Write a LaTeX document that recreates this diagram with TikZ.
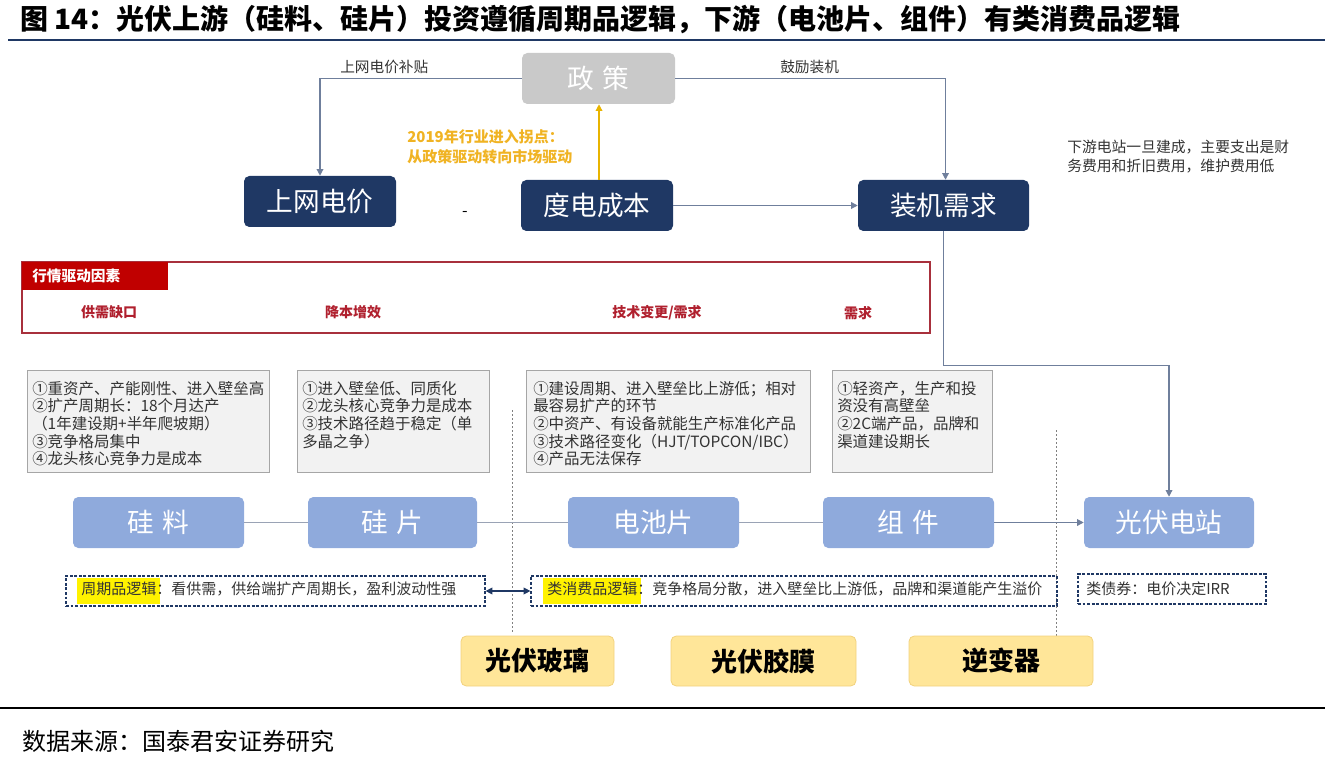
\documentclass[tikz,border=0pt]{standalone}
\usepackage{fontspec}
\setmainfont{Noto Sans CJK SC}
\usetikzlibrary{arrows.meta}
\definecolor{navy}{HTML}{1F3864}
\definecolor{chainblue}{HTML}{8FAADC}
\definecolor{polgray}{HTML}{C9C9C9}
\definecolor{ybox}{HTML}{FFE699}
\definecolor{yborder}{HTML}{F2D27E}
\definecolor{redhead}{HTML}{C00000}
\definecolor{redline}{HTML}{A8303C}
\definecolor{redtext}{HTML}{B0202E}
\definecolor{goldtext}{HTML}{F0B323}
\definecolor{goldline}{HTML}{E8B400}
\definecolor{boxfill}{HTML}{F2F2F2}
\definecolor{boxline}{HTML}{A6A6A6}
\definecolor{conncol}{HTML}{6F7F9C}
\definecolor{chainline}{HTML}{9AA3B5}
\definecolor{bodytext}{HTML}{333333}
\begin{document}
\begin{tikzpicture}[x=0.75pt,y=-0.75pt,
  bigfont/.style={font=\fontsize{20}{22}\selectfont},
  navybox/.style={rounded corners=4pt, fill=navy, text=white, bigfont, minimum height=38.25pt, inner sep=0pt},
  chainbox/.style={rounded corners=4pt, fill=chainblue, text=white, bigfont, minimum width=128.25pt, minimum height=38.25pt, inner sep=0pt},
  yelbox/.style={rounded corners=4pt, fill=ybox, draw=yborder, line width=0.6pt, text=black, font=\fontsize{19.5}{22}\selectfont\bfseries, minimum height=37.5pt, inner sep=0pt},
  graybox/.style={fill=boxfill, draw=boxline, line width=0.6pt},
  boxtext/.style={anchor=north west, align=left, text=bodytext, inner sep=0pt, font=\fontsize{11.6}{13.2}\selectfont},
  conn/.style={draw=conncol, line width=0.9pt},
  chainconn/.style={draw=chainline, line width=0.9pt},
  tip/.style={-{Triangle[width=5pt,length=5pt]}},
  dashbox/.style={draw=navy, dashed, dash pattern=on 2.2pt off 1.2pt, line width=0.9pt, inner sep=0pt},
  dashtext/.style={anchor=west, inner sep=0pt, text=bodytext, font=\fontsize{11.25}{13}\selectfont},
  redlabel/.style={text=redtext, font=\fontsize{10.5}{12}\selectfont\bfseries},
  vdot/.style={draw=gray, line width=0.5pt, dash pattern=on 1.5pt off 1.5pt}
]
\useasboundingbox (0,0) rectangle (1342,759);

% title
\node[anchor=west, inner sep=0pt, font=\fontsize{21}{24}\selectfont\bfseries] (title) at (20,20) {图 14：光伏上游（硅料、硅片）投资遵循周期品逻辑，下游（电池片、组件）有类消费品逻辑};
\draw[draw=navy, line width=1.6pt] (8,40) -- (1325,40);

% policy row
\node[rounded corners=4pt, fill=polgray, text=white, bigfont, minimum width=114.75pt, minimum height=38.25pt, inner sep=0pt] (zc) at (598.5,78.5) {政\hspace{0.3em}策};
\node[navybox, minimum width=114pt] (sw) at (320,201.5) {上网电价};
\node[navybox, minimum width=114pt] (dd) at (597,205.5) {度电成本};
\node[navybox, minimum width=128.25pt] (zj) at (943.5,205.5) {装机需求};
\node[inner sep=0pt, font=\fontsize{12}{14}\selectfont] (dash) at (465,214) {-};

\node[inner sep=0pt, anchor=west, text=bodytext, font=\fontsize{11}{13}\selectfont] (lb1) at (340,67) {上网电价补贴};
\node[inner sep=0pt, anchor=west, text=bodytext, font=\fontsize{11}{13}\selectfont] (lb2) at (780,67) {鼓励装机};

\draw[conn,tip] (zc.west) -| (sw.north);
\draw[conn,tip] (zc.east) -| ([xshift=1.5]zj.north);
\draw[draw=goldline, line width=0.9pt, tip] ([xshift=1.5]dd.north) -- ([xshift=1.5]dd.north |- zc.south);
\draw[conn,tip] (dd.east) -- (zj.west);

\node[inner sep=0pt, anchor=north west, align=left, text=goldtext, font=\fontsize{11.25}{15}\selectfont\bfseries] (gold) at (407,129) {2019年行业进入拐点：\\从政策驱动转向市场驱动};

\node[inner sep=0pt, anchor=north west, align=left, text=bodytext, font=\fontsize{11.1}{14.2}\selectfont] (rtext) at (1067,140) {下游电站一旦建成，主要支出是财\\务费用和折旧费用，维护费用低};

% red factor box
\draw[draw=redline, line width=1.3pt] (22,262) rectangle (930,333);
\node[anchor=north west, fill=redhead, minimum width=109.5pt, minimum height=21pt, inner sep=0pt] (hdr) at (22,262) {};
\node[anchor=west, inner sep=0pt, text=white, font=\fontsize{11}{13}\selectfont\bfseries] (hdrt) at (32,276) {行情驱动因素};
\node[redlabel] (f1) at (109,312) {供需缺口};
\node[redlabel] (f2) at (353,312) {降本增效};
\node[redlabel] (f3) at (657,313) {技术变更/需求};
\node[redlabel] (f4) at (858,313) {需求};

% gray text boxes
\draw[graybox] (27,370) rectangle (269,472);
\node[boxtext] (t1) at (32,381) {①重资产、产能刚性、进入壁垒高\\②扩产周期长：18个月达产\\（1年建设期+半年爬坡期）\\③竞争格局集中\\④龙头核心竞争力是成本};
\draw[graybox] (297,370) rectangle (489,472);
\node[boxtext] (t2) at (302,381) {①进入壁垒低、同质化\\②龙头核心竞争力是成本\\③技术路径趋于稳定（单\\多晶之争）};
\draw[graybox] (526,370) rectangle (810,472);
\node[boxtext] (t3) at (533,381) {①建设周期、进入壁垒比上游低；相对\\最容易扩产的环节\\②中资产、有设备就能生产标准化产品\\③技术路径变化（HJT/TOPCON/IBC）\\④产品无法保存};
\draw[graybox] (832,370) rectangle (992,472);
\node[boxtext] (t4) at (837,381) {①轻资产，生产和投\\资没有高壁垒\\②2C端产品，品牌和\\渠道建设期长};

% vertical dotted lines
\draw[vdot] (512,410) -- (512,634);
\draw[vdot] (1056,430) -- (1056,640);

% chain
\node[chainbox] (gl) at (158.5,522.5) {硅\hspace{0.3em}料};
\node[chainbox, minimum width=126.75pt] (gp) at (392.5,522.5) {硅\hspace{0.3em}片};
\node[chainbox] (dc) at (653.5,522.5) {电池片};
\node[chainbox] (zu) at (908.5,522.5) {组\hspace{0.3em}件};
\node[chainbox, minimum width=127.5pt] (gf) at (1169,522.5) {光伏电站};
\draw[chainconn] (gl.east) -- (gp.west);
\draw[chainconn] (gp.east) -- (dc.west);
\draw[chainconn] (dc.east) -- (zu.west);
\draw[conn,tip] (zu.east) -- (gf.west);
\draw[conn,tip] (zj.south) -- ++(0,134) -| (gf.north);

% dashed logic boxes
\node[dashbox, minimum width=314.25pt, minimum height=22.5pt] (la) at (275.5,591) {};
\node[dashtext] (lat) at (77,591) {\colorbox{yellow}{\strut 周期品逻辑}\kern-3pt：看供需，供给端扩产周期长，盈利波动性强};
\node[dashbox, minimum width=394.5pt, minimum height=22.5pt] (lb) at (794,591) {};
\node[dashtext] (lbt) at (543,591) {\colorbox{yellow}{\strut 类消费品逻辑}\kern-3pt：竞争格局分散，进入壁垒比上游低，品牌和渠道能产生溢价};
\node[dashbox, minimum width=141pt, minimum height=22.5pt] (lc) at (1172,589) {};
\node[dashtext] (lct) at (1086,589) {类债券：电价决定IRR};
\draw[draw=navy, line width=0.9pt, {Triangle[width=5pt,length=5pt]}-{Triangle[width=5pt,length=5pt]}] (la.east) -- (lb.west);

% yellow material boxes
\node[yelbox, minimum width=114.75pt] (bl) at (537.5,661) {光伏玻璃};
\node[yelbox, minimum width=138.75pt] (jm) at (763.5,661) {光伏胶膜};
\node[yelbox, minimum width=138pt] (nb) at (1001,661) {逆变器};

% bottom
\draw[draw=black, line width=2pt] (0,708) -- (1325,708);
\node[anchor=west, inner sep=0pt, font=\fontsize{18}{20}\selectfont] (src) at (22,741) {数据来源：国泰君安证券研究};
\end{tikzpicture}
\end{document}
